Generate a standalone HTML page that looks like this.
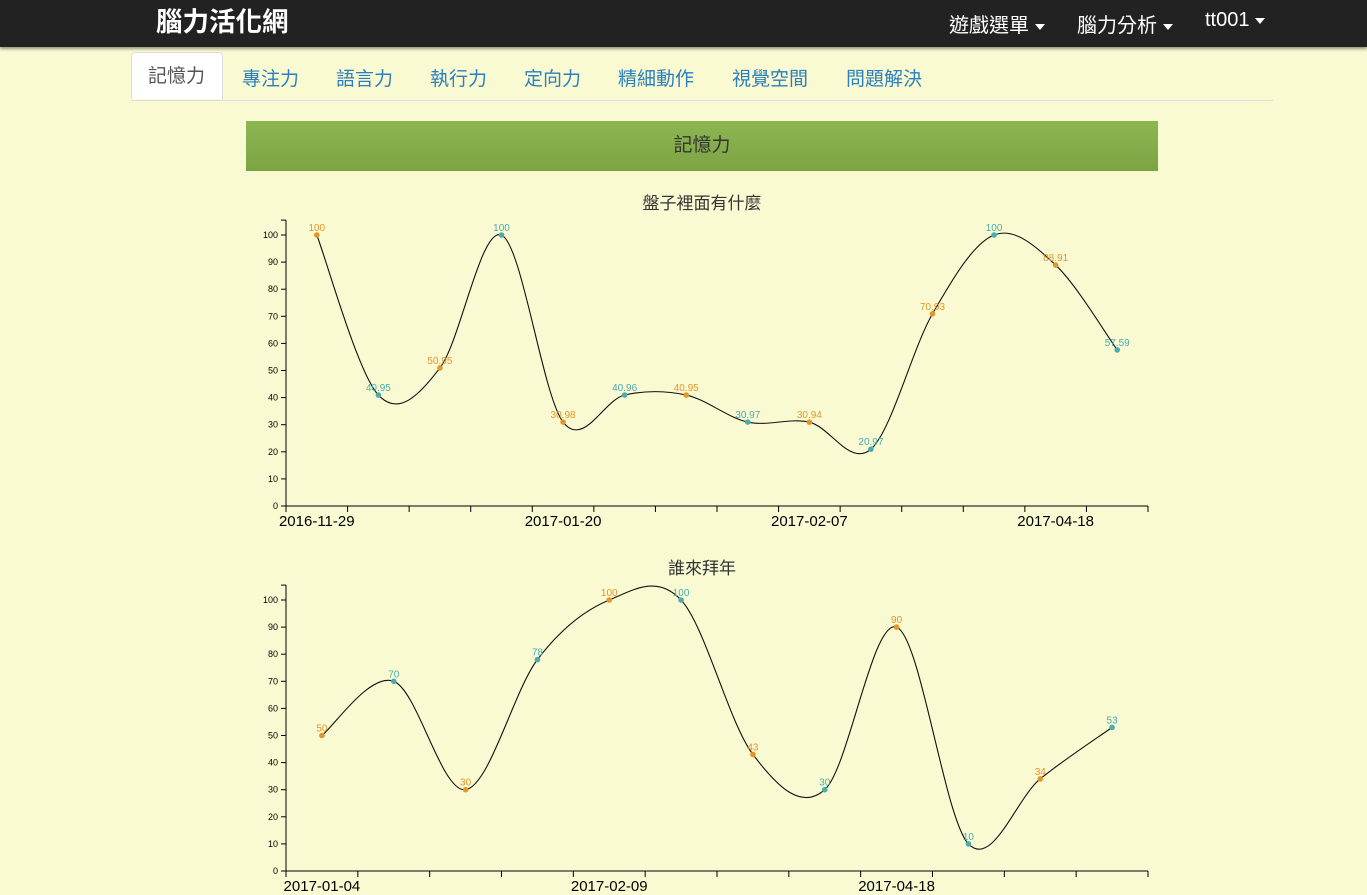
<!DOCTYPE html>
<html><head><meta charset="utf-8">
<style>
body{margin:0;width:1367px;height:895px;overflow:hidden;background:#fafad2;font-family:"Liberation Sans","Noto Sans CJK TC",sans-serif;position:relative}
.nav{position:absolute;left:0;top:0;width:1367px;height:47px;background:#222;box-shadow:0 2px 3px rgba(0,0,0,.4)}
.brand{position:absolute;left:156px;top:0px;color:#fff;font-size:26.5px;font-weight:bold}
.ni{position:absolute;top:9px;color:#fff;font-size:20px}
.caret{display:inline-block;width:0;height:0;border-left:5px solid transparent;border-right:5px solid transparent;border-top:6px solid #fff;vertical-align:middle;margin-left:6px}
.tabs{position:absolute;left:131px;top:100px;width:1142px;border-top:1px solid #ddd}
.tab{position:absolute;top:64px;font-size:19px;color:#2a7fc0}
.tab.active{color:#555;background:#fff;border:1px solid #ddd;border-bottom:none;top:52px;height:47px;line-height:48px;padding:0 16px;border-radius:4px 4px 0 0;box-sizing:border-box}
.banner{position:absolute;left:246px;top:121px;width:912px;height:50px;background:linear-gradient(#8db552,#7ca443);color:#333;font-size:19px;text-align:center;line-height:50px}
svg{position:absolute;left:0;top:0}
</style></head><body>
<div class="nav">
<div class="brand">腦力活化網</div>
<div class="ni" style="left:949px">遊戲選單<span class="caret"></span></div>
<div class="ni" style="left:1077px">腦力分析<span class="caret"></span></div>
<div class="ni" style="left:1205px">tt001<span class="caret"></span></div>
</div>
<div class="tabs"></div>
<div class="tab active" style="left:131px;width:92px">記憶力</div>
<div class="tab" style="left:242px;top:64px">專注力</div>
<div class="tab" style="left:336px;top:64px">語言力</div>
<div class="tab" style="left:430px;top:64px">執行力</div>
<div class="tab" style="left:524px;top:64px">定向力</div>
<div class="tab" style="left:618px;top:64px">精細動作</div>
<div class="tab" style="left:732px;top:64px">視覺空間</div>
<div class="tab" style="left:846px;top:64px">問題解決</div>
<div class="banner">記憶力</div>
<svg id="svg" width="1367" height="895"></svg>
<script>
const cat1=["2016-11-29","d2","d3","d4","2017-01-20","d6","d7","d8","2017-02-07","d10","d11","d12","2017-04-18","d14"];
const val1=[100,40.95,50.95,100,30.98,40.96,40.95,30.97,30.94,20.97,70.93,100,88.91,57.59];
const lab1=["100","40.95","50.95","100","30.98","40.96","40.95","30.97","30.94","20.97","70.93","100","88.91","57.59"];
const cat2=["2017-01-04","e2","e3","e4","2017-02-09","e6","e7","e8","2017-04-18","e10","e11","e12"];
const val2=[50,70,30,78,100,100,43,30,90,10,34,53];
const lab2=["50","70","30","78","100","100","43","30","90","10","34","53"];
const yTicks=[0,10,20,30,40,50,60,70,80,90,100];
const NS="http://www.w3.org/2000/svg";
const svg=document.getElementById('svg');
function mk(t,a,p){const e=document.createElementNS(NS,t);for(const k in a)e.setAttribute(k,a[k]);(p||svg).appendChild(e);return e;}
function chart(title,cats,vals,labs,y0,name){
  const g=mk('g',{});
  
  
  const L=286,R=1148,bot=y0,k=2.71;
  const y=v=>bot-v*k;
  const bw=(R-L)/cats.length;
  const x=i=>L+bw*(i+0.5);
  const t=mk('text',{x:702,y:y0-297,'text-anchor':'middle','font-size':17,fill:'#333'},g);t.textContent=title;
  
  mk('line',{x1:L,y1:bot,x2:L,y2:y(105.5),stroke:'#000'},g);
  mk('line',{x1:L-5,y1:y(105.5),x2:L,y2:y(105.5),stroke:'#000'},g);
  yTicks.forEach(v=>{mk('line',{x1:L-5,y1:y(v),x2:L,y2:y(v),stroke:'#000'},g);
    const tt=mk('text',{x:L-8,y:y(v)+3,'text-anchor':'end','font-size':9,fill:'#000'},g);tt.textContent=v;});
  mk('line',{x1:L,y1:bot,x2:R,y2:bot,stroke:'#000'},g);
  for(let i=0;i<=cats.length;i++)mk('line',{x1:L+bw*i,y1:bot,x2:L+bw*i,y2:bot+6,stroke:'#000'},g);
  cats.forEach((c,i)=>{if(i%4==0){const tt=mk('text',{x:x(i),y:bot+20,'text-anchor':'middle','font-size':15,fill:'#000'},g);tt.textContent=c;}});
  const P=vals.map((v,i)=>[x(i),y(v)]);
  let d='M'+P[0][0]+','+P[0][1];
  for(let i=0;i<P.length-1;i++){const p0=P[i-1]||P[i],p1=P[i],p2=P[i+1],p3=P[i+2]||P[i+1];
    d+=' C'+(p1[0]+(p2[0]-p0[0])/6)+','+(p1[1]+(p2[1]-p0[1])/6)+' '+(p2[0]-(p3[0]-p1[0])/6)+','+(p2[1]-(p3[1]-p1[1])/6)+' '+p2[0]+','+p2[1];}
  const pa=mk('path',{d:d,fill:'none',stroke:'#111','stroke-width':1.1},g);
  
  P.forEach((p,i)=>{const col=i%2?'#4aabb0':'#e3952a';
    const c=mk('circle',{cx:p[0],cy:p[1],r:2.8,fill:col},g);
    
    const tt=mk('text',{x:p[0],y:p[1]-4,'text-anchor':'middle','font-size':10,fill:col},g);tt.textContent=labs[i];});
}
chart('盤子裡面有什麼',cat1,val1,lab1,506,'chart-plate');
chart('誰來拜年',cat2,val2,lab2,871,'chart-new-year');
</script>
</body></html>
